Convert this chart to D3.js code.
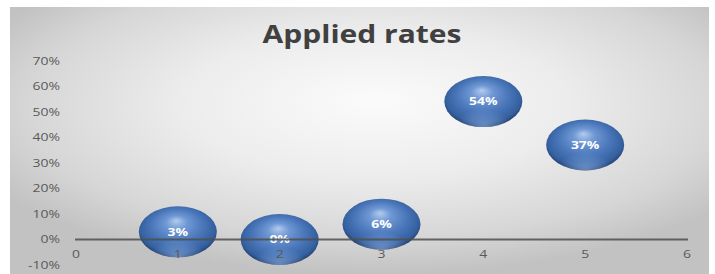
<!DOCTYPE html>
<html>
<head>
<meta charset="utf-8">
<script src="https://cdn.jsdelivr.net/npm/d3@7/dist/d3.min.js"></script>
<style>
html,body{margin:0;padding:0;background:#fff;}
svg{display:block;}
</style>
</head>
<body>
<svg id="chart" width="715" height="274"></svg>
<script>
const title = "Applied rates";
const xValues = [1, 2, 3, 4, 5];
const yValues = [0.03, 0.00, 0.06, 0.54, 0.37];
const xTicks = [0, 1, 2, 3, 4, 5, 6];
const yTicks = [-0.1, 0, 0.1, 0.2, 0.3, 0.4, 0.5, 0.6, 0.7];

const W = 715, H = 274;
const svg = d3.select("#chart");
const defs = svg.append("defs");

// background gradient
const bg = defs.append("radialGradient").attr("id","bg")
  .attr("cx","52%").attr("cy","38%").attr("r","62%").attr("fx","52%").attr("fy","35%");
bg.append("stop").attr("offset","0%").attr("stop-color","#fbfbfb");
bg.append("stop").attr("offset","45%").attr("stop-color","#ececec");
bg.append("stop").attr("offset","80%").attr("stop-color","#d6d6d6");
bg.append("stop").attr("offset","100%").attr("stop-color","#c2c2c2");

const ball = defs.append("radialGradient").attr("id","ball")
  .attr("cx","50%").attr("cy","45%").attr("r","55%").attr("fx","48%").attr("fy","28%");
ball.append("stop").attr("offset","0%").attr("stop-color","#b3cbee");
ball.append("stop").attr("offset","25%").attr("stop-color","#6f98d4");
ball.append("stop").attr("offset","60%").attr("stop-color","#4a77ba");
ball.append("stop").attr("offset","88%").attr("stop-color","#34609f");
ball.append("stop").attr("offset","100%").attr("stop-color","#243f6c");

const rim = defs.append("radialGradient").attr("id","rim")
  .attr("cx","50%").attr("cy","100%").attr("r","60%");
rim.append("stop").attr("offset","0%").attr("stop-color","#9fbff0").attr("stop-opacity",0.55);
rim.append("stop").attr("offset","60%").attr("stop-color","#9fbff0").attr("stop-opacity",0);

svg.append("rect").attr("x",10).attr("y",7).attr("width",699).attr("height",H-7)
  .attr("fill","url(#bg)");

const x = d3.scaleLinear().domain([0, 6]).range([76, 687]);
const y = d3.scaleLinear().domain([0, 0.7]).range([239.5, 60.7]);

const SX = 1.33;
const font = "'Open Sans', sans-serif";

// title
svg.append("text")
  .attr("transform", `translate(362,42.5) scale(1.2,1)`)
  .attr("text-anchor","middle")
  .attr("font-family", font).attr("font-weight","bold").attr("font-size",25)
  .attr("fill","#404040").text(title);

// y tick labels
svg.append("g").selectAll("text").data(yTicks).join("text")
  .attr("transform", d => `translate(60,${y(d)+3.8}) scale(${SX},1)`)
  .attr("text-anchor","end")
  .attr("font-family", font).attr("font-size",10.5).attr("fill","#595959")
  .text(d => d3.format(".0%")(d).replace("−","-"));

// bubbles
const bubbles = svg.append("g").selectAll("g").data(xValues.map((v,i)=>({x:v,y:yValues[i]}))).join("g")
  .attr("transform", d => `translate(${x(d.x)},${y(d.y)})`);
bubbles.append("ellipse").attr("rx",39).attr("ry",25.5).attr("fill","url(#ball)");
bubbles.append("ellipse").attr("rx",39).attr("ry",25.5).attr("fill","url(#rim)");

// zero line (drawn over bubbles)
svg.append("line").attr("x1",x(0)-1).attr("x2",x(6)+1).attr("y1",y(0)).attr("y2",y(0))
  .attr("stroke","#4f4f4f").attr("stroke-width",2).attr("opacity",0.85);

// x tick labels
svg.append("g").selectAll("text").data(xTicks).join("text")
  .attr("transform", d => `translate(${x(d)},${y(0)+18.5}) scale(${SX},1)`)
  .attr("text-anchor","middle")
  .attr("font-family", font).attr("font-size",10.5).attr("fill","#595959")
  .text(d => d);

// bubble labels
bubbles.append("text")
  .attr("transform", `translate(0,3.8) scale(${SX},1)`)
  .attr("text-anchor","middle")
  .attr("font-family", font).attr("font-weight","bold").attr("font-size",10.5)
  .attr("fill","#ffffff")
  .text(d => d3.format(".0%")(d.y));
</script>
</body>
</html>
